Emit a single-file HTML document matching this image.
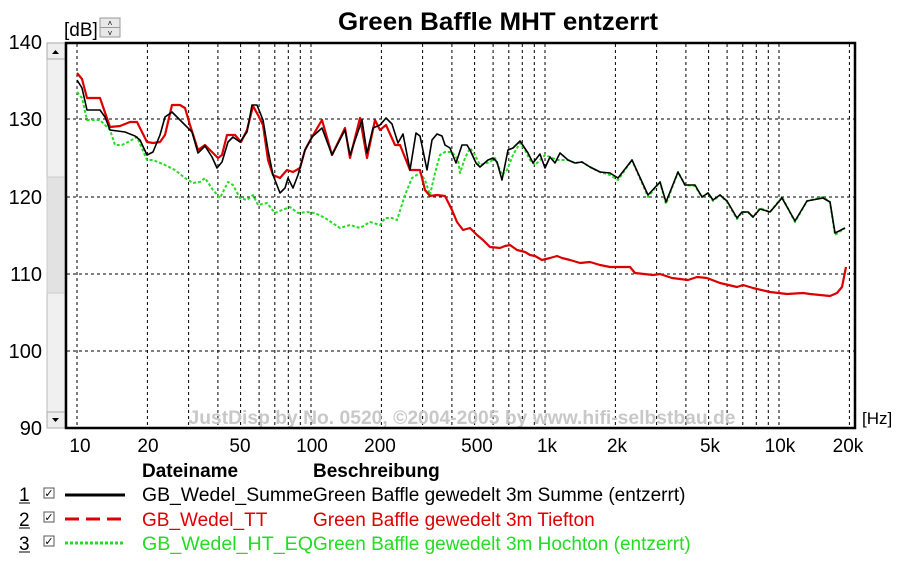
<!DOCTYPE html>
<html><head><meta charset="utf-8"><style>
body{margin:0;background:#fff;width:900px;height:567px;overflow:hidden;font-family:"Liberation Sans",Arial,sans-serif}
svg text{font-family:"Liberation Sans",Arial,sans-serif}
</style></head><body>
<svg id="s" width="900" height="567" xmlns="http://www.w3.org/2000/svg">
<text x="498" y="30" font-size="25" font-weight="bold" text-anchor="middle" textLength="320" lengthAdjust="spacingAndGlyphs">Green Baffle MHT entzerrt</text>
<text x="64" y="36" font-size="19">[dB]</text>
<rect x="100" y="18" width="20" height="19" fill="#e8e8e8" stroke="#999"/>
<line x1="100" y1="27.5" x2="120" y2="27.5" stroke="#999"/>
<text x="110" y="26" font-size="8" text-anchor="middle">˄</text>
<text x="110" y="36" font-size="8" text-anchor="middle">˅</text>
<g font-size="20" text-anchor="end">
<text x="42" y="49">140</text><text x="42" y="126">130</text><text x="42" y="204">120</text>
<text x="42" y="281">110</text><text x="42" y="358">100</text><text x="42" y="435">90</text>
</g>
<rect x="47" y="43" width="18" height="385" fill="#f0f0f0" stroke="#bbb"/>
<rect x="47" y="177" width="18" height="116" fill="#e2e2e2" stroke="#ccc"/>
<rect x="47" y="43" width="18" height="16" fill="#eee" stroke="#aaa"/>
<rect x="47" y="412" width="18" height="16" fill="#eee" stroke="#aaa"/>
<path d="M52 54 l3.5 -4 l3.5 4z M52 418 l3.5 4 l3.5 -4z" fill="#000"/>
<g id="grid" stroke="#000" stroke-width="1" stroke-dasharray="3,3"></g>
<text x="462" y="424" font-size="19" font-weight="bold" fill="#c8c8c8" text-anchor="middle" textLength="547" lengthAdjust="spacingAndGlyphs">JustDisp by No. 0520, ©2004-2005 by www.hifi-selbstbau.de</text>
<rect x="66" y="43" width="789" height="385" fill="none" stroke="#000" stroke-width="2.5"/>
<g fill="none" stroke-linejoin="round">
<polyline id="g" stroke="#22dd22" stroke-width="2" stroke-dasharray="3,2"/>
<polyline id="r" stroke="#dd0000" stroke-width="2.2"/>
<polyline id="b" stroke="#000" stroke-width="1.6"/>
</g>
<g font-size="19" text-anchor="middle">
<text x="80" y="452">10</text><text x="148" y="452">20</text><text x="240" y="452">50</text>
<text x="312" y="452">100</text><text x="380" y="452">200</text><text x="477" y="452">500</text>
<text x="547" y="452">1k</text><text x="617" y="452">2k</text><text x="710" y="452">5k</text>
<text x="780" y="452">10k</text><text x="848" y="452">20k</text>
</g>
<text x="862" y="424" font-size="17">[Hz]</text>
<g font-size="19">
<text x="142" y="477" font-weight="bold">Dateiname</text>
<text x="313" y="477" font-weight="bold">Beschreibung</text>
<text x="142" y="501" textLength="171" lengthAdjust="spacingAndGlyphs">GB_Wedel_Summe</text><text x="313" y="501">Green Baffle gewedelt 3m Summe (entzerrt)</text>
<text x="142" y="526" fill="#dd0000">GB_Wedel_TT</text><text x="313" y="526" fill="#dd0000">Green Baffle gewedelt 3m Tiefton</text>
<text x="142" y="550" fill="#22dd22" textLength="171" lengthAdjust="spacingAndGlyphs">GB_Wedel_HT_EQ</text><text x="313" y="550" fill="#22dd22">Green Baffle gewedelt 3m Hochton (entzerrt)</text>
<text x="19" y="501">1</text><text x="19" y="526">2</text><text x="19" y="550">3</text>
</g>
<path d="M19 503h11M19 528h11M19 552h11" stroke="#000"/>
<g fill="#fff" stroke="#555"><rect x="44" y="488" width="10" height="10"/><rect x="44" y="512" width="10" height="10"/><rect x="44" y="536" width="10" height="10"/></g>
<g font-size="11" text-anchor="middle"><text x="49" y="497">✓</text><text x="49" y="521">✓</text><text x="49" y="545">✓</text></g>
<line x1="65" y1="495" x2="125" y2="495" stroke="#000" stroke-width="3"/>
<line x1="65" y1="519" x2="125" y2="519" stroke="#dd0000" stroke-width="3" stroke-dasharray="14,7"/>
<line x1="65" y1="543" x2="125" y2="543" stroke="#22dd22" stroke-width="3" stroke-dasharray="3,2"/>
</svg>
<script>
var g=document.getElementById('grid'),h='';
function X(f){return 77+234*Math.log10(f/10);}
[10,20,30,40,50,60,70,80,90,100,200,300,400,500,600,700,800,900,1000,2000,3000,4000,5000,6000,7000,8000,9000,10000,20000].forEach(function(f){var x=X(f).toFixed(1);h+='<line x1="'+x+'" y1="44" x2="'+x+'" y2="427"/>';});
[119,197,274,351].forEach(function(y){h+='<line x1="67" y1="'+y+'" x2="854" y2="'+y+'"/>';});
g.innerHTML=h;
var B="77,80 82,88 87,110 100,110 105,117 110,130 125,132 135,136 140,140 147,155 153,152 160,135 165,117 172,112 180,120 192,132 198,153 205,146 212,157 217,168 222,162 228,142 233,137 240,142 247,132 252,105 257,105 263,120 268,150 273,175 280,193 285,188 288,178 293,188 298,175 305,150 312,137 322,128 332,155 345,130 350,155 362,120 367,153 373,128 380,125 386,118 392,124 398,143 403,134 410,170 416,133 420,136 427,170 432,140 437,134 442,136 445,145 450,148 456,163 462,145 467,145 470,150 476,163 480,167 488,160 493,158 497,162 502,180 508,150 513,148 520,141 528,153 533,163 540,154 545,168 550,157 555,163 560,153 568,160 575,163 582,162 590,167 600,172 610,173 618,178 632,160 648,195 660,182 666,202 678,172 685,185 695,185 702,197 708,193 713,200 720,195 727,201 737,218 742,212 748,212 753,217 760,209 770,212 782,198 795,221 807,201 823,198 830,202 835,233 845,228";
var R="77,73 82,79 87,98 100,98 110,127 120,126 130,122 137,122 147,142 153,143 160,142 165,135 172,105 180,105 185,108 190,125 198,150 205,145 213,153 218,158 222,155 227,135 235,135 241,142 247,130 253,106 258,115 263,125 268,160 273,175 280,178 287,170 293,172 300,168 305,150 312,137 322,120 332,155 345,128 350,158 360,118 367,158 375,120 380,130 386,125 395,145 400,145 410,170 420,170 425,190 430,196 437,195 445,196 452,210 457,222 463,230 470,228 477,235 483,240 490,247 500,248 505,246 510,245 517,250 525,252 530,255 535,256 542,260 550,258 557,256 562,258 570,260 580,263 590,262 600,265 610,267 630,267 635,273 653,275 660,274 672,278 688,280 697,277 707,278 720,283 737,287 743,285 753,288 770,292 787,294 803,293 810,294 830,296 837,293 842,287 846,267";
var G="77,92 82,98 87,120 100,120 110,130 115,145 122,145 128,142 137,137 147,160 153,160 165,165 175,170 185,178 193,183 200,182 205,178 213,190 220,198 228,182 233,185 240,198 247,200 253,195 258,205 267,203 275,213 282,210 290,207 298,213 307,212 315,213 325,218 340,228 350,225 360,228 370,222 380,225 385,218 392,218 397,220 405,195 412,178 420,173 425,180 430,195 435,173 440,155 445,152 452,152 458,160 460,173 465,158 470,148 475,155 480,165 490,162 495,158 502,175 507,170 513,155 520,143 525,150 530,160 535,165 545,155 550,157 557,160 568,160 575,163 582,162 590,167 600,172 610,175 618,180 632,160 648,197 660,182 666,204 678,172 685,185 695,186 702,197 708,193 713,201 720,195 727,202 737,219 742,212 748,212 753,217 760,208 770,212 782,197 795,222 807,201 823,197 830,202 835,235 845,228";
document.getElementById('b').setAttribute('points',B);
document.getElementById('r').setAttribute('points',R);
document.getElementById('g').setAttribute('points',G);
</script>
</body></html>
